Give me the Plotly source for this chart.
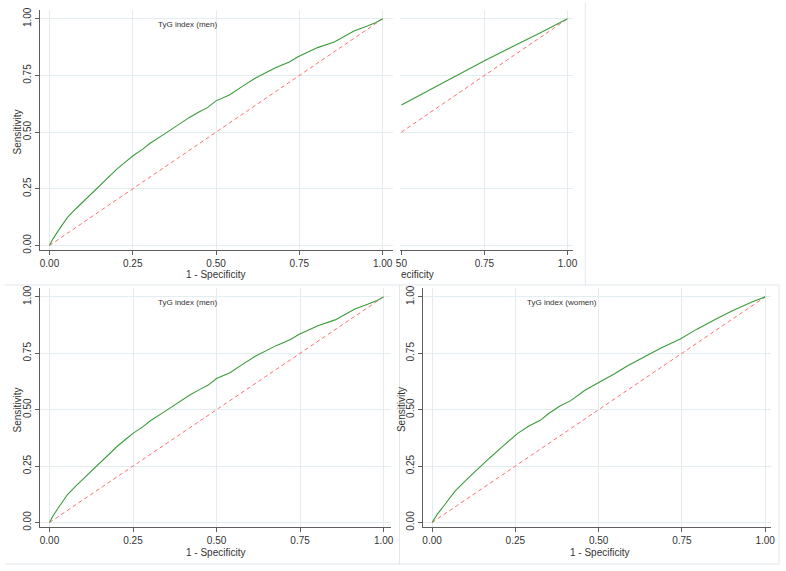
import plotly.graph_objects as go

# ---------------- data ----------------
men_fpr = [0, 0.01, 0.025, 0.054, 0.08, 0.104, 0.13, 0.153, 0.18, 0.203, 0.23, 0.252,
           0.28, 0.302, 0.341, 0.37, 0.42, 0.45, 0.474, 0.50, 0.54, 0.58, 0.617, 0.68,
           0.72, 0.746, 0.805, 0.855, 0.884, 0.914, 0.954, 0.98, 1.0]
men_tpr = [0, 0.028, 0.062, 0.124, 0.163, 0.197, 0.234, 0.266, 0.306, 0.338, 0.371, 0.397,
           0.425, 0.451, 0.488, 0.517, 0.565, 0.59, 0.608, 0.638, 0.664, 0.703, 0.738, 0.785,
           0.81, 0.833, 0.873, 0.898, 0.921, 0.946, 0.968, 0.984, 1.0]

women_fpr = [0, 0.015, 0.035, 0.069, 0.109, 0.138, 0.173, 0.212, 0.257, 0.291, 0.326, 0.35,
             0.385, 0.415, 0.459, 0.499, 0.548, 0.587, 0.637, 0.686, 0.745, 0.795,
             0.854, 0.903, 0.962, 1.0]
women_tpr = [0, 0.035, 0.073, 0.139, 0.198, 0.239, 0.286, 0.337, 0.395, 0.428, 0.454, 0.483,
             0.517, 0.539, 0.586, 0.619, 0.659, 0.695, 0.735, 0.772, 0.813, 0.857,
             0.903, 0.94, 0.978, 1.0]

partial_fpr = [0.5, 0.75, 0.92, 1.0]
partial_tpr = [0.62, 0.815, 0.94, 1.0]

ref_x = [0, 1]
ref_y = [0, 1]
partial_ref_x = [0.5, 1]
partial_ref_y = [0.5, 1]

tick_vals = [0, 0.25, 0.5, 0.75, 1.0]
tick_text = ["0.00", "0.25", "0.50", "0.75", "1.00"]

# ---------------- layout helpers ----------------
W, H = 786, 571
GREEN = "#3b9b3b"
RED = "#ff6f6f"
GRID = "#e2edf1"
AXIS = "#5e5e5e"
TXT = "#333333"
FONT = "Liberation Sans, Arial, sans-serif"


def fx(px):
    return px / W


def fy(py):
    return 1 - py / H


# panel: fpr0_px, fpr1_px (pixel of fpr 0 and 1), tpr0_py, tpr1_py, domain px left,right,top,bottom
panels = {
    "A": dict(f0=45, f1=382, t0=245, t1=16, l=35, r=392, t=7, b=250),
    "B": dict(f0=233, f1=569, t0=245, t1=16, l=400, r=575, t=7, b=250),
    "C": dict(f0=45, f1=383, t0=525, t1=297, l=35, r=390, t=288, b=530),
    "D": dict(f0=432, f1=769, t0=525, t1=297, l=423, r=775, t=288, b=530),
}

fig = go.Figure()
layout = dict(width=W, height=H, margin=dict(l=0, r=0, t=0, b=0),
              paper_bgcolor="white", plot_bgcolor="white", showlegend=False,
              font=dict(family=FONT, size=10, color=TXT))

names = ["A", "B", "C", "D"]
for i, n in enumerate(names):
    p = panels[n]
    sx = p["f1"] - p["f0"]
    sy = p["t0"] - p["t1"]
    xr = [(p["l"] - p["f0"]) / sx, (p["r"] - p["f0"]) / sx]
    yr = [(p["t0"] - p["b"]) / sy, (p["t0"] - p["t"]) / sy]
    suffix = "" if i == 0 else str(i + 1)
    partial = n == "B"
    xa = dict(domain=[fx(p["l"]), fx(p["r"])], range=xr, showgrid=True, gridcolor=GRID,
              gridwidth=1, zeroline=False, showline=True, linecolor=AXIS, linewidth=1,
              ticks="outside", ticklen=4, tickcolor=AXIS,
              tickvals=[0.5, 0.75, 1.0] if partial else tick_vals,
              ticktext=["50", "0.75", "1.00"] if partial else tick_text,
              tickfont=dict(size=10, color=TXT), anchor="y" + suffix, fixedrange=True)
    ya = dict(domain=[fy(p["b"]), fy(p["t"])], range=yr, showgrid=True, gridcolor=GRID,
              gridwidth=1, zeroline=False, showline=not partial, linecolor=AXIS, linewidth=1,
              ticks="" if partial else "outside", ticklen=4, tickcolor=AXIS,
              tickvals=tick_vals, ticktext=tick_text, showticklabels=not partial,
              tickangle=-90, tickfont=dict(size=10, color=TXT), anchor="x" + suffix,
              fixedrange=True)
    layout["xaxis" + suffix] = xa
    layout["yaxis" + suffix] = ya

    if n == "B":
        fx_, fy_, rx, ry = partial_fpr, partial_tpr, partial_ref_x, partial_ref_y
    elif n == "D":
        fx_, fy_, rx, ry = women_fpr, women_tpr, ref_x, ref_y
    else:
        fx_, fy_, rx, ry = men_fpr, men_tpr, ref_x, ref_y
    fig.add_trace(go.Scatter(x=rx, y=ry, mode="lines", xaxis="x" + suffix, yaxis="y" + suffix,
                             line=dict(color=RED, width=1, dash="4px,3px"), hoverinfo="skip"))
    fig.add_trace(go.Scatter(x=fx_, y=fy_, mode="lines", xaxis="x" + suffix, yaxis="y" + suffix,
                             line=dict(color=GREEN, width=1.1), hoverinfo="skip"))

annotations = []


def ann(text, px, py, size=10, xanchor="center", angle=0):
    annotations.append(dict(text=text, x=fx(px), y=fy(py), xref="paper", yref="paper",
                            showarrow=False, xanchor=xanchor, yanchor="middle",
                            textangle=angle, font=dict(size=size, color=TXT, family=FONT)))


# panel titles
ann("TyG index (men)", 185, 22, size=8)
ann("TyG index (men)", 185, 303, size=8)
ann("TyG index (women)", 563, 303, size=8)
# axis titles
ann("1 - Specificity", 213, 274)
ann("Sensitivity", 13, 130, angle=-90)
ann("1 - Specificity", 213, 555)
ann("Sensitivity", 13, 411, angle=-90)
ann("1 - Specificity", 601, 555)
ann("Sensitivity", 401, 411, angle=-90)
ann("ecificity", 399, 274, xanchor="left")
layout["annotations"] = annotations

# faint frame lines of the pasted panels
FRAME = "#dfe7eb"
shapes = []
for (x0, y0, x1, y1) in [(587, 0, 587, 285), (0, 285, 587, 285), (399, 285, 399, 567),
                         (0, 567, 783, 567), (783, 285, 783, 567), (587, 285, 783, 285)]:
    shapes.append(dict(type="line", xref="paper", yref="paper", x0=fx(x0), y0=fy(y0),
                       x1=fx(x1), y1=fy(y1), line=dict(color=FRAME, width=1), layer="below"))
layout["shapes"] = shapes

fig.update_layout(**layout)
fig.write_html("out.html", config={"displayModeBar": False, "staticPlot": True},
               post_script="document.body.style.margin='0px';document.body.style.overflow='hidden';")
